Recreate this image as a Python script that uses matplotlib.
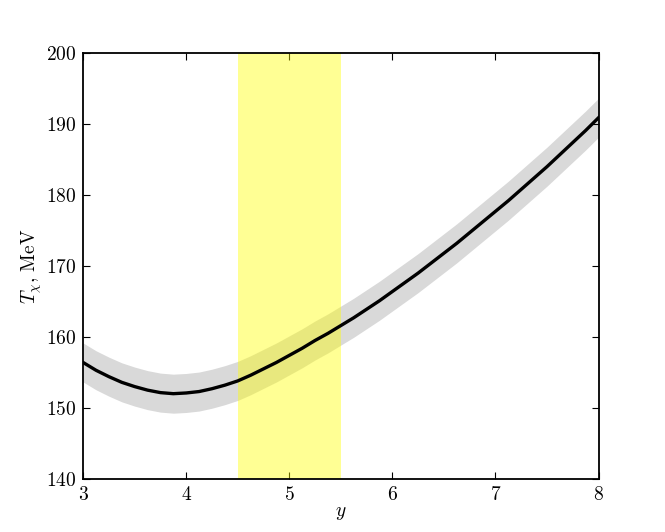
import matplotlib
matplotlib.use("Agg")
import matplotlib.pyplot as plt
import numpy as np

plt.rcParams['font.family'] = 'serif'
plt.rcParams['font.serif'] = ['cmr10', 'DejaVu Serif']
plt.rcParams['mathtext.fontset'] = 'cm'
plt.rcParams['axes.unicode_minus'] = False
plt.rcParams['font.size'] = 13

# curve
y_rap = [3.000, 3.125, 3.250, 3.375, 3.500, 3.625, 3.750, 3.875, 4.000, 4.125,
         4.250, 4.375, 4.500, 4.625, 4.750, 4.875, 5.000, 5.125, 5.250, 5.375,
         5.500, 5.625, 5.750, 5.875, 6.000, 6.125, 6.250, 6.375, 6.500, 6.625,
         6.750, 6.875, 7.000, 7.125, 7.250, 7.375, 7.500, 7.625, 7.750, 7.875,
         8.000]
T_chi = [156.4, 155.3, 154.4, 153.6, 153.0, 152.5, 152.15, 152.0, 152.1, 152.3,
         152.7, 153.2, 153.8, 154.6, 155.5, 156.4, 157.4, 158.4, 159.5, 160.5,
         161.6, 162.7, 163.9, 165.1, 166.4, 167.7, 169.0, 170.4, 171.8, 173.2,
         174.7, 176.2, 177.7, 179.2, 180.8, 182.4, 184.0, 185.7, 187.4, 189.1,
         190.9]
T_err = 2.75
band_lo, band_hi = 4.5, 5.5

x_ticks = [3, 4, 5, 6, 7, 8]
y_ticks = [140, 150, 160, 170, 180, 190, 200]

fig = plt.figure(figsize=(6.65, 5.32), dpi=100)
ax = fig.add_axes([0.125, 0.1, 0.775, 0.8])

T = np.array(T_chi)
ax.fill_between(y_rap, T - T_err, T + T_err, color='0.85', lw=0, zorder=1)
ax.axvspan(band_lo, band_hi, color='yellow', alpha=0.42, lw=0, zorder=2)
ax.plot(y_rap, T_chi, color='k', lw=2.4, zorder=3, solid_joinstyle='round')

ax.set_xlim(3, 8)
ax.set_ylim(140, 200)
ax.set_xticks(x_ticks)
ax.set_yticks(y_ticks)
ax.set_xticklabels(['$%d$' % v for v in x_ticks])
ax.set_yticklabels(['$%d$' % v for v in y_ticks])
ax.tick_params(direction='in', top=True, right=True, length=5, width=0.8,
               labelsize=14, pad=5)
for s in ax.spines.values():
    s.set_linewidth(1.3)

ax.set_xlabel('$y$', fontsize=14, labelpad=0)
ax.set_ylabel(r'$T_\chi$, MeV', fontsize=14, labelpad=1)

fig.savefig('out.png', dpi=100)
